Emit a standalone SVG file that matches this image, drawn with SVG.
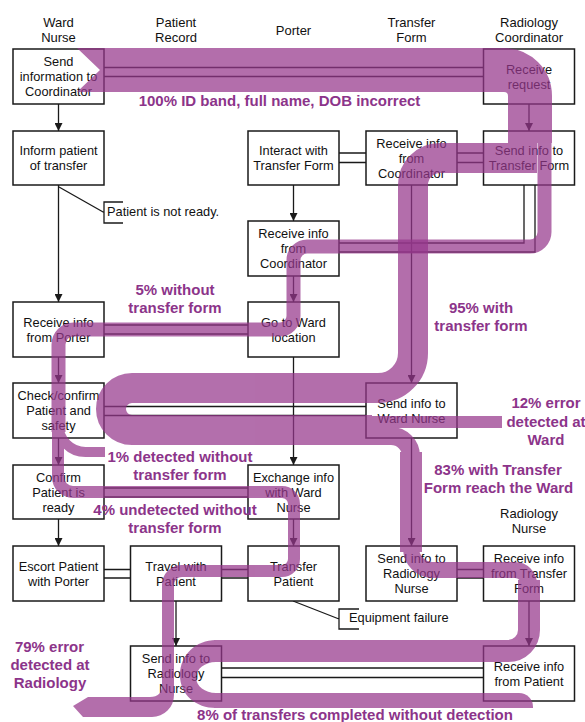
<svg xmlns="http://www.w3.org/2000/svg" width="585" height="722" viewBox="0 0 585 722">
<defs>
<style>
.box{fill:#fff;stroke:#1a1a1a;stroke-width:1.5}
.t{font-family:"Liberation Sans",Arial,sans-serif;font-size:12.8px;fill:#111;text-anchor:middle}
.nt{font-family:"Liberation Sans",Arial,sans-serif;font-size:12.8px;fill:#111}
.h{font-family:"Liberation Sans",Arial,sans-serif;font-size:13px;fill:#111;text-anchor:middle}
.ln{fill:none;stroke:#1a1a1a;stroke-width:1.3}
.ar{fill:none;stroke:#1a1a1a;stroke-width:1.3;marker-end:url(#ah)}
.band{fill:none;stroke:#96378c}
.bf{fill:#96378c}
.lbl{font-family:"Liberation Sans",Arial,sans-serif;font-size:15px;font-weight:bold;fill:#8c348a;text-anchor:middle}
</style>
<marker id="ah" markerWidth="8" markerHeight="8" refX="8" refY="4" orient="auto" markerUnits="userSpaceOnUse"><path d="M0,0 L8,4 L0,8 Z" fill="#1a1a1a"/></marker>
</defs>
<rect width="585" height="722" fill="#fff"/>

<g id="headers">
<text class="h" x="58.5" y="27">Ward</text><text class="h" x="58.5" y="42">Nurse</text>
<text class="h" x="176" y="27">Patient</text><text class="h" x="176" y="42">Record</text>
<text class="h" x="293.5" y="34.5">Porter</text>
<text class="h" x="411.5" y="27">Transfer</text><text class="h" x="411.5" y="42">Form</text>
<text class="h" x="529" y="27">Radiology</text><text class="h" x="529" y="42">Coordinator</text>
<text class="h" x="529" y="517.5">Radiology</text><text class="h" x="529" y="532.5">Nurse</text>
</g>

<g id="connectors">
<path class="ln" d="M104,67.5 H483.5 M104,76.5 H483.5"/>
<path class="ln" d="M457,153 H483.5 M457,162.5 H483.5"/>
<path class="ln" d="M339,153 H366 M339,162.5 H366"/>
<path class="ln" d="M524,185 V243 H339 M535,185 V252 H339"/>
<path class="ln" d="M104,325 H248 M104,334 H248"/>
<path class="ln" d="M104,406.5 H366 M104,415.5 H366"/>
<path class="ln" d="M104,488 H248 M104,497 H248"/>
<path class="ln" d="M104,569.5 H130.5 M104,578 H130.5 M221.5,569.5 H248 M221.5,578 H248 M457,569.5 H483.5 M457,578 H483.5"/>
<path class="ln" d="M221.5,668 H483.5 M221.5,677.5 H483.5"/>
<path class="ar" d="M58.5,104 V131"/>
<path class="ar" d="M529,104 V131"/>
<path class="ar" d="M293.5,185 V221"/>
<path class="ar" d="M58.5,185 V302"/>
<path class="ar" d="M293.5,276 V302"/>
<path class="ar" d="M411.5,185 V383"/>
<path class="ar" d="M58.5,357 V383"/>
<path class="ar" d="M293.5,357 V465"/>
<path class="ar" d="M58.5,438 V465"/>
<path class="ar" d="M411.5,438 V546"/>
<path class="ar" d="M58.5,519 V546"/>
<path class="ar" d="M293.5,519 V546"/>
<path class="ar" d="M176,601 V646"/>
<path class="ar" d="M529,601 V646"/>
<path class="ln" d="M59,187 L104,212.5 M123,202 H104 V223 H123"/>
<path class="ln" d="M293,601 L339,619 M359,609 H339 V629 H359"/>
</g>

<g id="notes">
<text class="nt" x="107" y="216">Patient is not ready.</text>
<text class="nt" x="349" y="622">Equipment failure</text>
</g>

<g id="n1"><rect class="box" x="13" y="49" width="91" height="55"/><text class="t" x="58.5" y="66">Send</text><text class="t" x="58.5" y="81">information to</text><text class="t" x="58.5" y="96">Coordinator</text></g>
<g id="n2"><rect class="box" x="483.5" y="49" width="91" height="55"/><text class="t" x="529" y="73.5">Receive</text><text class="t" x="529" y="88.5">request</text></g>
<g id="n3"><rect class="box" x="13" y="131" width="91" height="54"/><text class="t" x="58.5" y="155">Inform patient</text><text class="t" x="58.5" y="170">of transfer</text></g>
<g id="n4"><rect class="box" x="248" y="131" width="91" height="54"/><text class="t" x="293.5" y="155">Interact with</text><text class="t" x="293.5" y="170">Transfer Form</text></g>
<g id="n5"><rect class="box" x="366" y="131" width="91" height="54"/><text class="t" x="411.5" y="147.5">Receive info</text><text class="t" x="411.5" y="162.5">from</text><text class="t" x="411.5" y="177.5">Coordinator</text></g>
<g id="n6"><rect class="box" x="483.5" y="131" width="91" height="54"/><text class="t" x="529" y="155">Send info to</text><text class="t" x="529" y="170">Transfer Form</text></g>
<g id="n7"><rect class="box" x="248" y="221" width="91" height="55"/><text class="t" x="293.5" y="238">Receive info</text><text class="t" x="293.5" y="253">from</text><text class="t" x="293.5" y="268">Coordinator</text></g>
<g id="n8"><rect class="box" x="13" y="302" width="91" height="55"/><text class="t" x="58.5" y="326.5">Receive info</text><text class="t" x="58.5" y="341.5">from Porter</text></g>
<g id="n9"><rect class="box" x="248" y="302" width="91" height="55"/><text class="t" x="293.5" y="326.5">Go to Ward</text><text class="t" x="293.5" y="341.5">location</text></g>
<g id="n10"><rect class="box" x="13" y="383" width="91" height="55"/><text class="t" x="58.5" y="400">Check/confirm</text><text class="t" x="58.5" y="415">Patient and</text><text class="t" x="58.5" y="430">safety</text></g>
<g id="n11"><rect class="box" x="366" y="383" width="91" height="55"/><text class="t" x="411.5" y="407.5">Send info to</text><text class="t" x="411.5" y="422.5">Ward Nurse</text></g>
<g id="n12"><rect class="box" x="13" y="465" width="91" height="54"/><text class="t" x="58.5" y="481.5">Confirm</text><text class="t" x="58.5" y="496.5">Patient is</text><text class="t" x="58.5" y="511.5">ready</text></g>
<g id="n13"><rect class="box" x="248" y="465" width="91" height="54"/><text class="t" x="293.5" y="481.5">Exchange info</text><text class="t" x="293.5" y="496.5">with Ward</text><text class="t" x="293.5" y="511.5">Nurse</text></g>
<g id="n14"><rect class="box" x="13" y="546" width="91" height="55"/><text class="t" x="58.5" y="570.5">Escort Patient</text><text class="t" x="58.5" y="585.5">with Porter</text></g>
<g id="n15"><rect class="box" x="130.5" y="546" width="91" height="55"/><text class="t" x="176" y="570.5">Travel with</text><text class="t" x="176" y="585.5">Patient</text></g>
<g id="n16"><rect class="box" x="248" y="546" width="91" height="55"/><text class="t" x="293.5" y="570.5">Transfer</text><text class="t" x="293.5" y="585.5">Patient</text></g>
<g id="n17"><rect class="box" x="366" y="546" width="91" height="55"/><text class="t" x="411.5" y="563">Send info to</text><text class="t" x="411.5" y="578">Radiology</text><text class="t" x="411.5" y="593">Nurse</text></g>
<g id="n18"><rect class="box" x="483.5" y="546" width="91" height="55"/><text class="t" x="529" y="563">Receive info</text><text class="t" x="529" y="578">from Transfer</text><text class="t" x="529" y="593">Form</text></g>
<g id="n19"><rect class="box" x="130.5" y="646" width="91" height="55"/><text class="t" x="176" y="663">Send info to</text><text class="t" x="176" y="678">Radiology</text><text class="t" x="176" y="693">Nurse</text></g>
<g id="n20"><rect class="box" x="483.5" y="646" width="91" height="55"/><text class="t" x="529" y="670.5">Receive info</text><text class="t" x="529" y="685.5">from Patient</text></g>

<g id="flows">
<g id="flow-with-form" opacity="0.72">
<path class="bf" d="M77,48 H101 V92 H77 L100,70 Z"/>
<path class="band" stroke-width="44" d="M100,70 H504 A26,26 0 0 1 530,96 V143"/>
<path class="band" stroke-width="30" d="M537,158 H440 A27,27 0 0 0 413,185 V353 A35,35 0 0 1 378,388 H132 A21,21 0 0 0 132,430 H372"/>
<path class="band" stroke-width="12" d="M370,422 H502"/>
<path class="band" stroke-width="18" d="M370,436 H391 A20,20 0 0 1 411,456"/>
<path class="band" stroke-width="22" d="M411,452 V552"/>
<path class="band" stroke-width="16" d="M411,548 A22,22 0 0 0 433,570 H515 A14,14 0 0 1 529,584"/>
<path class="band" stroke-width="22" d="M529,580 V630 A21,21 0 0 1 508,651 H214"/>
<path class="bf" d="M216,640 C196,640 180,655 180,675 C180,695 196,708 216,708 L216,693 C205,693 196,686 196,677.5 C196,669 205,662 216,662 Z"/>
<path class="bf" d="M214,693 H519 A14,14 0 0 1 533,707 V708 H214 Z"/>
</g>
<g id="flow-without-form" opacity="0.72">
<path class="band" stroke-width="14" d="M544.5,143 V232 A14.5,14.5 0 0 1 530,246.5 H307 A13.5,13.5 0 0 0 293.5,260 V316 A13.5,13.5 0 0 1 280,329.5 H73.5 A15,15 0 0 0 58.5,344.5 V432"/>
<path class="band" stroke-width="10" d="M58.5,425 A27,27 0 0 0 85.5,452 H105"/>
<path class="band" stroke-width="12" d="M58,428 V477 A15,15 0 0 0 73,492 H282 A12,12 0 0 1 294,504 V559 A12,12 0 0 1 282,571 H182 A14,14 0 0 0 168,585 V600"/>
<path class="bf" d="M174,590 V695 A22,22 0 0 1 152,717 H83 L73,706 L88,697 H150 Q162,697 162,685 V590 Z"/>
</g>
</g>

<g id="labels">
<text class="lbl" x="279.5" y="106">100% ID band, full name, DOB incorrect</text>
<text class="lbl" x="175" y="295">5% without</text><text class="lbl" x="175" y="313">transfer form</text>
<text class="lbl" x="481" y="313">95% with</text><text class="lbl" x="481" y="331">transfer form</text>
<text class="lbl" x="546" y="408">12% error</text><text class="lbl" x="546" y="427">detected at</text><text class="lbl" x="546" y="445">Ward</text>
<text class="lbl" x="498" y="475">83% with Transfer</text><text class="lbl" x="498.5" y="493">Form reach the Ward</text>
<text class="lbl" x="180" y="462">1% detected without</text><text class="lbl" x="180" y="480">transfer form</text>
<text class="lbl" x="175" y="515">4% undetected without</text><text class="lbl" x="175" y="533">transfer form</text>
<text class="lbl" x="49.5" y="652">79% error</text><text class="lbl" x="50" y="670">detected at</text><text class="lbl" x="50" y="688">Radiology</text>
<text class="lbl" x="355" y="720">8% of transfers completed without detection</text>
</g>
</svg>
